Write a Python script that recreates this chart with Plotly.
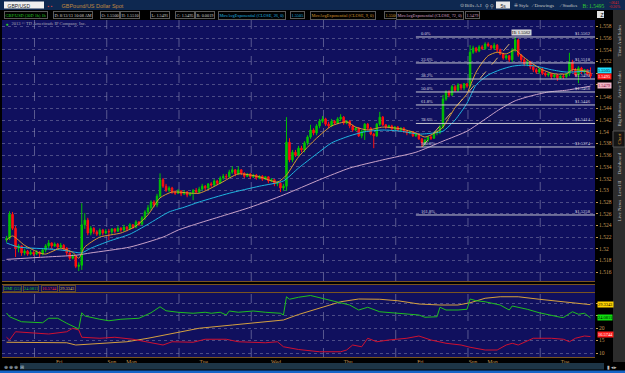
import plotly.graph_objects as go

W, H = 625, 373
FONT = "Liberation Sans"
NARROW = "Liberation Sans Narrow"

# ---------------- data (hourly bars, weekend gap removed) ----------------
bar_index = list(range(195))

open_pips = [
    15215, 15218, 15259, 15235, 15201, 15205, 15193, 15196, 15191, 15194,
    15191, 15194, 15191, 15198, 15205, 15210, 15205, 15208, 15203, 15206,
    15201, 15193, 15184, 15188, 15170, 15172, 15241, 15249, 15227, 15235,
    15229, 15225, 15232, 15227, 15230, 15229, 15234, 15230, 15235, 15232,
    15237, 15234, 15241, 15237, 15246, 15242, 15253, 15263, 15270, 15280,
    15275, 15290, 15318, 15307, 15300, 15304, 15297, 15295, 15299, 15294,
    15297, 15292, 15295, 15300, 15297, 15302, 15307, 15304, 15311, 15309,
    15316, 15312, 15321, 15324, 15323, 15331, 15335, 15328, 15335, 15329,
    15324, 15328, 15323, 15326, 15321, 15324, 15319, 15323, 15316, 15318,
    15311, 15312, 15304, 15307, 15382, 15352, 15365, 15360, 15372, 15369,
    15381, 15391, 15403, 15398, 15410, 15418, 15422, 15413, 15410, 15418,
    15415, 15422, 15425, 15415, 15418, 15410, 15403, 15406, 15393, 15401,
    15413, 15406, 15396, 15393, 15413, 15425, 15412, 15408, 15410, 15405,
    15408, 15403, 15406, 15401, 15398, 15400, 15393, 15396, 15388, 15381,
    15386, 15391, 15389, 15398, 15400, 15408, 15456, 15468, 15463, 15477,
    15471, 15480, 15475, 15482, 15478, 15536, 15543, 15538, 15545, 15542,
    15550, 15547, 15543, 15548, 15540, 15533, 15526, 15530, 15523, 15540,
    15557, 15531, 15523, 15516, 15519, 15511, 15506, 15502, 15507, 15500,
    15497, 15499, 15494, 15497, 15492, 15495, 15494, 15499, 15519, 15506,
    15497, 15509, 15502, 15506, 15500]
close_pips = [
    15218, 15259, 15235, 15201, 15205, 15193, 15196, 15191, 15194, 15191,
    15194, 15191, 15198, 15205, 15210, 15205, 15208, 15203, 15206, 15201,
    15193, 15184, 15188, 15170, 15172, 15241, 15249, 15227, 15235, 15229,
    15225, 15232, 15227, 15230, 15229, 15234, 15230, 15235, 15232, 15237,
    15234, 15241, 15237, 15246, 15242, 15253, 15263, 15270, 15280, 15275,
    15290, 15318, 15307, 15300, 15304, 15297, 15295, 15299, 15294, 15297,
    15292, 15295, 15300, 15297, 15302, 15307, 15304, 15311, 15309, 15316,
    15312, 15321, 15324, 15323, 15331, 15335, 15328, 15335, 15329, 15324,
    15328, 15323, 15326, 15321, 15324, 15319, 15323, 15316, 15318, 15311,
    15312, 15304, 15307, 15382, 15352, 15365, 15360, 15372, 15369, 15381,
    15391, 15403, 15398, 15410, 15418, 15422, 15413, 15410, 15418, 15415,
    15422, 15425, 15415, 15418, 15410, 15403, 15406, 15393, 15401, 15413,
    15406, 15396, 15393, 15413, 15425, 15412, 15408, 15410, 15405, 15408,
    15403, 15406, 15401, 15398, 15400, 15393, 15396, 15388, 15381, 15386,
    15391, 15389, 15398, 15400, 15408, 15456, 15468, 15463, 15477, 15471,
    15480, 15475, 15482, 15478, 15536, 15543, 15538, 15545, 15542, 15550,
    15547, 15543, 15548, 15540, 15533, 15526, 15530, 15523, 15540, 15557,
    15531, 15523, 15516, 15519, 15511, 15506, 15502, 15507, 15500, 15497,
    15499, 15494, 15497, 15492, 15495, 15494, 15499, 15519, 15506, 15497,
    15509, 15502, 15506, 15499, 15495]
high_pips = [
    15222, 15264, 15263, 15239, 15208, 15206, 15200, 15198, 15198, 15196,
    15198, 15196, 15201, 15208, 15215, 15211, 15211, 15210, 15210, 15208,
    15203, 15194, 15191, 15189, 15177, 15278, 15261, 15253, 15239, 15237,
    15232, 15235, 15234, 15234, 15234, 15235, 15235, 15239, 15237, 15241,
    15239, 15244, 15242, 15249, 15247, 15256, 15266, 15275, 15283, 15283,
    15294, 15329, 15321, 15311, 15307, 15306, 15300, 15302, 15300, 15300,
    15299, 15297, 15302, 15304, 15306, 15311, 15309, 15312, 15314, 15319,
    15318, 15324, 15328, 15328, 15335, 15341, 15336, 15341, 15336, 15331,
    15329, 15329, 15328, 15328, 15326, 15326, 15324, 15324, 15321, 15319,
    15316, 15314, 15311, 15425, 15389, 15369, 15369, 15376, 15376, 15384,
    15394, 15412, 15406, 15413, 15422, 15427, 15424, 15417, 15422, 15420,
    15425, 15430, 15427, 15420, 15420, 15412, 15408, 15408, 15403, 15415,
    15415, 15408, 15398, 15415, 15434, 15427, 15413, 15412, 15412, 15410,
    15410, 15408, 15408, 15403, 15401, 15401, 15398, 15398, 15389, 15388,
    15393, 15394, 15400, 15403, 15412, 15463, 15471, 15471, 15480, 15480,
    15483, 15482, 15483, 15483, 15548, 15547, 15545, 15548, 15548, 15553,
    15553, 15548, 15552, 15550, 15542, 15535, 15531, 15531, 15543, 15562,
    15559, 15533, 15526, 15523, 15521, 15512, 15509, 15509, 15509, 15502,
    15502, 15500, 15499, 15499, 15497, 15499, 15500, 15535, 15523, 15509,
    15512, 15511, 15507, 15507, 15510]
low_pips = [
    15211, 15215, 15232, 15186, 15194, 15188, 15189, 15188, 15189, 15188,
    15189, 15186, 15189, 15194, 15201, 15201, 15203, 15200, 15201, 15198,
    15189, 15181, 15182, 15167, 15162, 15164, 15234, 15223, 15223, 15225,
    15222, 15222, 15223, 15225, 15215, 15225, 15227, 15229, 15229, 15230,
    15230, 15232, 15234, 15235, 15239, 15241, 15249, 15259, 15266, 15271,
    15271, 15287, 15304, 15297, 15297, 15294, 15292, 15294, 15290, 15292,
    15288, 15290, 15283, 15294, 15295, 15300, 15300, 15302, 15306, 15307,
    15309, 15311, 15318, 15319, 15321, 15328, 15324, 15326, 15326, 15321,
    15323, 15319, 15321, 15318, 15319, 15316, 15318, 15312, 15314, 15307,
    15307, 15297, 15299, 15299, 15348, 15348, 15357, 15359, 15365, 15365,
    15377, 15388, 15394, 15394, 15406, 15415, 15410, 15406, 15408, 15412,
    15413, 15418, 15412, 15413, 15406, 15400, 15401, 15391, 15389, 15386,
    15403, 15394, 15372, 15391, 15410, 15410, 15405, 15406, 15401, 15403,
    15401, 15400, 15398, 15394, 15396, 15391, 15391, 15386, 15374, 15376,
    15382, 15386, 15388, 15394, 15396, 15405, 15453, 15459, 15461, 15468,
    15468, 15471, 15471, 15475, 15475, 15533, 15535, 15536, 15540, 15540,
    15545, 15540, 15540, 15536, 15531, 15523, 15523, 15519, 15519, 15536,
    15528, 15519, 15512, 15512, 15507, 15502, 15499, 15499, 15497, 15494,
    15494, 15490, 15492, 15487, 15490, 15490, 15492, 15495, 15502, 15494,
    15483, 15499, 15500, 15497, 15491]

ema9_idx = [0, 2, 6, 11, 13, 18, 22, 24, 26, 31, 38, 43, 47, 51, 55, 64, 71, 77, 84, 90,
            93, 97, 103, 108, 113, 116, 120, 125, 131, 136, 139, 143, 145, 149, 153, 154,
            156, 158, 160, 163, 166, 169, 171, 174, 178, 182, 186, 188, 192, 194]
ema9_pips = [15215, 15222, 15206, 15193, 15191, 15201, 15194, 15184, 15203, 15220, 15227,
             15239, 15258, 15287, 15297, 15295, 15312, 15328, 15323, 15314, 15326, 15357,
             15389, 15410, 15417, 15408, 15403, 15408, 15405, 15398, 15391, 15400, 15408,
             15441, 15465, 15478, 15502, 15518, 15530, 15536, 15533, 15540, 15531, 15519,
             15506, 15499, 15499, 15506, 15504, 15500]
ema26_idx = [0, 4, 13, 18, 23, 25, 28, 34, 41, 47, 54, 59, 64, 74, 84, 92, 97, 103, 108,
             114, 119, 125, 131, 137, 142, 145, 149, 153, 156, 160, 164, 168, 172, 176, 181,
             186, 194]
ema26_pips = [15210, 15203, 15200, 15198, 15194, 15193, 15201, 15213, 15225, 15242, 15263,
              15271, 15280, 15295, 15307, 15316, 15338, 15362, 15381, 15393, 15400, 15403,
              15401, 15396, 15398, 15401, 15420, 15449, 15480, 15497, 15506, 15512, 15514,
              15512, 15506, 15502, 15504]
ema72_idx = [0, 13, 23, 28, 41, 52, 57, 64, 81, 92, 104, 114, 125, 136, 145, 153, 158, 164,
             169, 174, 180, 186, 194]
ema72_pips = [15182, 15186, 15189, 15193, 15203, 15220, 15232, 15244, 15271, 15292, 15318,
              15338, 15352, 15365, 15384, 15401, 15418, 15439, 15453, 15461, 15468, 15471,
              15478]

dip_idx = [0, 1, 5, 12, 14, 17, 20, 24, 25, 26, 31, 34, 38, 44, 48, 51, 53, 57, 62, 66,
           68, 71, 73, 74, 77, 82, 86, 91, 92, 93, 94, 97, 101, 104, 107, 111, 114, 117,
           120, 124, 130, 137, 139, 143, 144, 146, 150, 153, 154, 156, 159, 164, 167, 168,
           173, 177, 184, 185, 188, 190, 192, 194]
dip_vals = [26.0, 24.5, 22.5, 22.1, 23.9, 23.9, 21.9, 19.6, 26.1, 24.8, 23.5, 22.9, 23.5,
            23.9, 26.1, 28.5, 26.9, 26.3, 25.9, 26.3, 25.9, 26.3, 25.2, 26.8, 26.3, 26.8,
            26.3, 25.9, 25.2, 32.5, 31.5, 32.3, 33.0, 32.1, 31.2, 30.3, 29.2, 27.2, 28.3,
            26.5, 25.9, 25.2, 24.3, 24.5, 28.3, 27.2, 27.2, 27.5, 31.6, 30.9, 30.5, 29.2,
            27.2, 28.8, 27.5, 26.1, 24.3, 24.2, 26.5, 25.5, 25.9, 24.0811]
din_idx = [0, 1, 3, 9, 14, 20, 22, 24, 25, 31, 36, 42, 47, 52, 55, 62, 66, 73, 77, 86,
           90, 92, 97, 104, 111, 113, 115, 118, 120, 123, 127, 133, 137, 141, 146, 151,
           154, 159, 163, 166, 168, 170, 175, 181, 185, 187, 189, 192, 194]
din_vals = [16.3, 15.2, 18.5, 18.1, 17.6, 18.5, 19.9, 19.2, 16.3, 15.9, 16.3, 15.5, 14.5,
            13.2, 14.5, 14.3, 15.5, 15.5, 14.5, 14.1, 14.5, 12.5, 11.4, 10.5, 10.5, 11.2,
            13.2, 12.5, 15.9, 14.5, 15.2, 15.9, 16.8, 15.2, 13.9, 13.2, 12.3, 11.2, 11.2,
            13.2, 13.9, 13.2, 15.9, 15.9, 15.5, 14.5, 15.9, 16.8, 16.5744]
adx_idx = [0, 9, 20, 23, 31, 40, 47, 64, 75, 88, 92, 97, 104, 111, 117, 124, 130, 137,
           144, 150, 154, 159, 164, 170, 177, 185, 194]
adx_vals = [14.3, 14.3, 14.1, 13.2, 13.9, 14.5, 15.9, 19.9, 21.2, 22.5, 23.2, 25.4, 27.9,
            30.5, 31.6, 31.5, 30.9, 29.6, 29.2, 29.2, 30.1, 31.9, 32.5, 32.5, 31.5, 30.5,
            29.3343]

day_labels = ["Fri", "Sun", "Mon", "Tue", "Wed", "Thu", "Fri", "Sun", "Mon", "Tue"]
day_bars = [17.5, 35, 41.5, 65.5, 89.5, 113.5, 137.5, 155, 161.5, 185.5]
grid_bars = [9.3, 33.3, 57.3, 81.3, 105.3, 129.3, 153.3, 177.3]

fib_names = ["0.0%", "23.6%", "38.2%", "50.0%", "61.8%", "78.6%", "100.0%", "161.8%"]
fib_ratios = [0, 0.236, 0.382, 0.5, 0.618, 0.786, 1.0, 1.618]
fib_high, fib_low = 1.5562, 1.5374
fib_high_bar, fib_low_bar = 169, 138

price_ticks = [round(1.516 + 0.002 * k, 3) for k in range(22)]
price_hidden = [1.55, 1.548]          # covered by the price boxes on the right axis
dmi_ticks = [10, 15, 20, 25, 30]
dmi_hidden = [25, 30]                 # covered by the DMI value boxes

# ---------------- conversions ----------------
to_px = lambda v: v / 10000.0
opens = [to_px(v) for v in open_pips]
highs = [to_px(v) for v in high_pips]
lows = [to_px(v) for v in low_pips]
closes = [to_px(v) for v in close_pips]

XR = [-1.5, 195.5]
def px(x): return x / W
def py(y): return 1 - y / H

fig = go.Figure()
fig.add_trace(go.Candlestick(
    x=bar_index, open=opens, high=highs, low=lows, close=closes,
    increasing=dict(line=dict(color="#00c400", width=1), fillcolor="#00c400"),
    decreasing=dict(line=dict(color="#ff1010", width=1), fillcolor="#ff1010"),
    whiskerwidth=0, xaxis="x", yaxis="y", hoverinfo="skip", showlegend=False))
for idx, vals, col in [(ema72_idx, ema72_pips, "#c8a2c8"),
                       (ema26_idx, ema26_pips, "#1fb6e0"),
                       (ema9_idx, ema9_pips, "#d99a30")]:
    fig.add_trace(go.Scatter(x=idx, y=[to_px(v) for v in vals], mode="lines",
                             line=dict(color=col, width=1, shape="spline", smoothing=0.6),
                             xaxis="x", yaxis="y", hoverinfo="skip", showlegend=False))
for idx, vals, col in [(adx_idx, adx_vals, "#d4a040"),
                       (din_idx, din_vals, "#d01030"),
                       (dip_idx, dip_vals, "#1fbf1f")]:
    fig.add_trace(go.Scatter(x=idx, y=vals, mode="lines", line=dict(color=col, width=1),
                             xaxis="x2", yaxis="y2", hoverinfo="skip", showlegend=False))

shapes = []
for name, r in zip(fib_names, fib_ratios):
    lvl = fib_high - r * (fib_high - fib_low)
    shapes.append(dict(type="line", xref="x", yref="y", x0=136, x1=XR[1], y0=lvl, y1=lvl,
                       line=dict(color="#c8c8d2", width=1)))
shapes.append(dict(type="line", xref="x", yref="y", x0=fib_low_bar, x1=fib_high_bar,
                   y0=fib_low, y1=fib_high, line=dict(color="#d8b070", width=1, dash="dash")))
for g in grid_bars:
    for yr in ["y domain", "y2 domain"]:
        shapes.append(dict(type="line", xref="x", yref=yr, x0=g, x1=g, y0=0, y1=1,
                           line=dict(color="rgba(150,150,185,0.55)", width=1, dash="dash"),
                           layer="below"))

def rect(x0, y0, x1, y1, fill, line=None):
    return dict(type="rect", xref="paper", yref="paper", x0=px(x0), x1=px(x1),
                y0=py(y1), y1=py(y0), fillcolor=fill,
                line=dict(width=1 if line else 0, color=line or fill))
shapes += [
    rect(0, 0, 625, 10, "#0e2850"),
    rect(4, 1.5, 44, 8.5, "#f0f0f0"),
    rect(496, 1.5, 510, 8.5, "#e8e8e8"),
    rect(613, 10, 625, 362, "#2c2c2c"),
    rect(613, 131, 625, 147, "#151515", "#555555"),
    rect(20, 363, 604, 369.5, "#1d3546"),
    rect(0, 370.5, 625, 373, "#1565c8"),
    rect(597, 11, 604, 18, "#e0e0e0"),
]
for yy in [281.5, 284.5, 292.5, 357.5]:
    shapes.append(dict(type="line", xref="paper", yref="paper", x0=px(2), x1=px(595),
                       y0=py(yy), y1=py(yy), line=dict(color="#7a5420", width=1)))

ann = []
def A(x, y, text, color, size=5.5, xanchor="left", yanchor="middle", bg=None,
      border=None, family=FONT, angle=0, xref="paper", yref="paper", pad=0.5, yshift=0):
    d = dict(x=px(x) if xref == "paper" else x, y=py(y) if yref == "paper" else y,
             xref=xref, yref=yref, text=text, showarrow=False, xanchor=xanchor,
             yanchor=yanchor, textangle=angle, yshift=yshift,
             font=dict(color=color, size=size, family=family), borderpad=pad)
    if bg: d["bgcolor"] = bg
    if border:
        d["bordercolor"] = border
        d["borderwidth"] = 1
    ann.append(d)

# top bar
A(6, 5, "GBP/USD", "#202020", 5)
A(46, 5, "▪ ▪", "#d04040", 5)
A(60, 5, "GBPound/US Dollar Spot", "#c08840", 5.5)
A(458, 5, "⊙ Bills A.I", "#c8c8c8", 5, family=NARROW)
A(483, 5, "⚲ ⚲", "#c8c8c8", 5)
A(499, 5, "5s", "#202020", 5)
A(512, 5, "⁜ Style", "#c8c8c8", 5, family=NARROW)
A(530, 5, "⁄ Drawings", "#c8c8c8", 5, family=NARROW)
A(558, 5, "⁄ Studies", "#c8c8c8", 5, family=NARROW)
A(581, 5, "B: 1.5495", "#30d030", 5.5, family=NARROW)
A(608, 2.5, "-.0041", "#e02020", 3.8, family=NARROW, pad=0)
A(608, 7.2, "-0.26%", "#e02020", 3.8, family=NARROW, pad=0)
A(598.5, 14.5, "Z", "#000000", 5)

# header row
hdr = [(4, "GBP/USD (30D 1h) 1h", "#28d028"), (53, "D: 8/13/13 10:08 AM", "#d0d0d0"),
       (100, "O: 1.5500", "#d0d0d0"), (120, "H: 1.5510", "#d0d0d0"),
       (150, "L: 1.5491", "#d0d0d0"), (175, "C: 1.5495", "#d0d0d0"),
       (195, "R: 0.0019", "#d0d0d0"),
       (218, "MovAvgExponential (CLOSE, 26, 0)", "#1fb6e0"), (290, "1.5505", "#1fb6e0"),
       (310, "MovAvgExponential (CLOSE, 9, 0)", "#d99a30"), (384, "1.5500", "#d99a30"),
       (396, "MovAvgExponential (CLOSE, 72, 0)", "#d8a0c8"), (465, "1.5479", "#d8a0c8")]
for x, t, c in hdr:
    A(x, 15, t, c, 4.3, bg="#000000", border="#5a5a5a", family=NARROW)

A(4, 23, "●", "#30c030", 5)
A(10, 23, "2013 © TD Ameritrade IP Company, Inc.", "#a8a8b8", 4.5, family=NARROW)

# fib labels
for name, r in zip(fib_names, fib_ratios):
    lvl = fib_high - r * (fib_high - fib_low)
    A(137.5, lvl, name, "#d8d8e0", 4.6, yanchor="bottom", xref="x", yref="y",
      family=NARROW, pad=0)
    A(194.5, lvl, "$" + f"{lvl:.4f}", "#d8d8e0", 4.6, xanchor="right", yanchor="bottom",
      xref="x", yref="y", family=NARROW, pad=0)
A(fib_high_bar + 2, fib_high + 0.0002, "Hi 1.5562", "#000000", 4.6, xanchor="center",
  yanchor="bottom", bg="#d8d8d8", xref="x", yref="y", family=NARROW, pad=0)

# right-axis value boxes
A(597, 1.5505, "1.5505", "#000000", 4.4, bg="#20e0ff", yref="y", family=NARROW, pad=0)
A(597, 1.5495, "1.5495", "#ffffff", 4.4, bg="#ff1818", yref="y", family=NARROW, pad=0)
A(597, 1.5479, "1.5479", "#800030", 4.4, bg="#f2b6c6", yref="y", family=NARROW, pad=0)
A(597, 29.3343, "29.3343", "#000000", 4.4, bg="#ffd200", yref="y2", family=NARROW, pad=0)
A(597, 24.0811, "24.0811", "#000000", 4.4, bg="#10e010", yref="y2", family=NARROW, pad=0)
A(597, 16.5744, "16.5744", "#ffffff", 4.4, bg="#ff2020", yref="y2", family=NARROW, pad=0,
  yshift=2)

# lower header
for x, t, c in [(3, "DMI (55)", "#28d028"), (23, "24.0811", "#28d028"),
                (41, "16.5744", "#ff3030"), (59, "29.3343", "#e0c040")]:
    A(x, 288.5, t, c, 4.4, bg="#0a0a50", border="#5a4a30", family=NARROW, pad=0)

# side tabs
for yc, t, c in [(41, "Time And Sales", "#c0c0c0"), (85, "Active Trader", "#c0c0c0"),
                 (115, "Big Buttons", "#c0c0c0"), (139, "Chart", "#e0a030"),
                 (164, "Dashboard", "#c0c0c0"), (189, "Level II", "#c0c0c0"),
                 (211, "Live News", "#c0c0c0")]:
    A(619, yc, t, c, 5, xanchor="center", angle=-90, family=NARROW)

# bottom icons
A(2, 366, "⊕ ⊕ ⊕ ⊞", "#b0c0d0", 5)
A(605, 366, "▮ ◂▸", "#c0c0c0", 5)

axis_font = dict(color="#c89a58", size=5.5, family=NARROW)
fig.update_layout(
    width=W, height=H, margin=dict(l=0, r=0, t=0, b=0),
    paper_bgcolor="#000000", plot_bgcolor="#10105e",
    showlegend=False, shapes=shapes, annotations=ann,
    xaxis=dict(domain=[px(2), px(595)], range=XR, anchor="y", showticklabels=False,
               showgrid=False, zeroline=False, rangeslider=dict(visible=False),
               fixedrange=True),
    yaxis=dict(domain=[py(281), py(20)], range=[1.5145, 1.5591], side="right",
               anchor="x", tickvals=price_ticks,
               ticktext=["" if v in price_hidden else ("%.3f" % v).rstrip("0")
                         for v in price_ticks],
               tickfont=axis_font, ticks="outside", ticklen=2, tickcolor="#c89a58",
               showgrid=True, gridcolor="rgba(150,150,185,0.45)", griddash="dot",
               zeroline=False),
    xaxis2=dict(domain=[px(2), px(595)], range=XR, anchor="y2", tickvals=day_bars,
                ticktext=day_labels, tickfont=axis_font, ticks="", showgrid=False,
                zeroline=False),
    yaxis2=dict(domain=[py(357), py(284)], range=[8.4, 37.6], side="right", anchor="x2",
                tickvals=dmi_ticks,
                ticktext=["" if v in dmi_hidden else str(v) for v in dmi_ticks],
                tickfont=axis_font, ticks="outside", ticklen=2,
                tickcolor="#c89a58", showgrid=True, gridcolor="rgba(150,150,185,0.45)",
                griddash="dot", zeroline=False),
)
fig.write_html("out.html")
